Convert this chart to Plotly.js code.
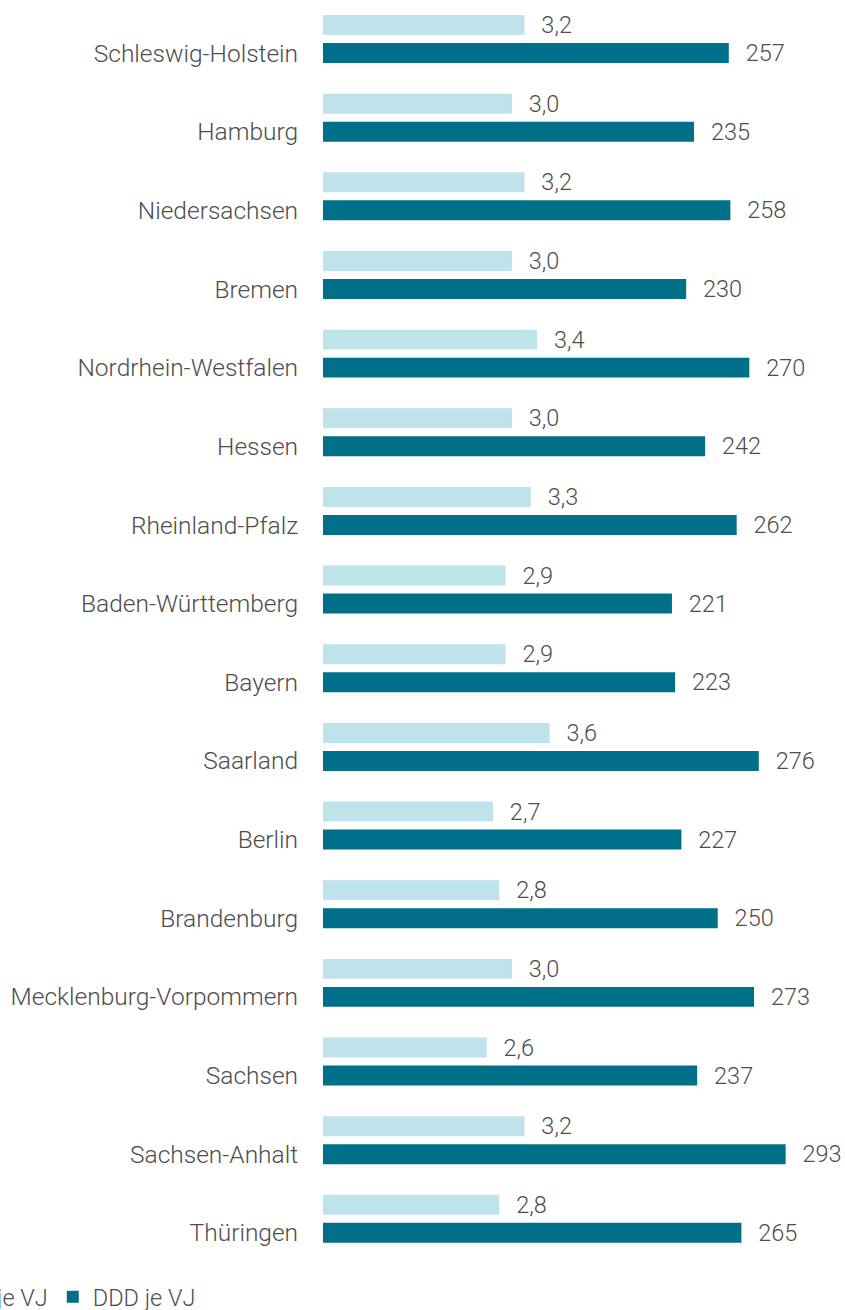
<!DOCTYPE html>
<html>
<head>
<meta charset="utf-8">
<script src="https://cdn.plot.ly/plotly-3.0.1.min.js"></script>
<style>html,body{margin:0;padding:0;background:#fff;}#chart{width:845px;height:1310px;}</style>
</head>
<body>
<div id="chart"></div>
<script>
const categories = ["Schleswig-Holstein","Hamburg","Niedersachsen","Bremen","Nordrhein-Westfalen","Hessen","Rheinland-Pfalz","Baden-Württemberg","Bayern","Saarland","Berlin","Brandenburg","Mecklenburg-Vorpommern","Sachsen","Sachsen-Anhalt","Thüringen"];
const voJeVJ = [3.2,3.0,3.2,3.0,3.4,3.0,3.3,2.9,2.9,3.6,2.7,2.8,3.0,2.6,3.2,2.8];
const dddJeVJ = [257,235,258,230,270,242,262,221,223,276,227,250,273,237,293,265];
const seriesNames = ["VO je VJ","DDD je VJ"];

const NB = "\u00a0\u00a0\u200a";
const font = {family: "Roboto", size: 23.5, color: "#4d4d4d", weight: 300};
const tickFont = {family: "Roboto", size: 24.5, color: "#4d4d4d", weight: 300};

const traces = [
  {
    type: "bar", orientation: "h", name: seriesNames[0],
    y: categories, x: voJeVJ, xaxis: "x2", yaxis: "y",
    width: 0.254, offset: -0.483,
    marker: {color: "#bfe3ea"},
    texttemplate: NB + "%{x:.1f}", textposition: "outside", cliponaxis: false,
    constraintext: "none",
    textfont: font, hoverinfo: "none"
  },
  {
    type: "bar", orientation: "h", name: seriesNames[1],
    y: categories, x: dddJeVJ, xaxis: "x", yaxis: "y",
    width: 0.254, offset: -0.127,
    marker: {color: "#006f89"},
    texttemplate: NB + "%{x:.0f}", textposition: "outside", cliponaxis: false,
    constraintext: "none",
    textfont: font, hoverinfo: "none"
  }
];

const layout = {
  width: 845, height: 1310,
  margin: {l: 323, r: 0, t: 0, b: 52, autoexpand: false},
  paper_bgcolor: "#fff", plot_bgcolor: "#fff",
  separators: ",.",
  font: font,
  showlegend: true,
  barmode: "overlay",
  xaxis: {range: [0, 330.6], visible: false, fixedrange: true},
  xaxis2: {range: [0, 8.29], overlaying: "x", visible: false, fixedrange: true},
  yaxis: {
    type: "category", range: [15.32, -0.674],
    showgrid: false, zeroline: false, showline: false,
    ticks: "outside", ticklen: 19, tickcolor: "rgba(0,0,0,0)",
    tickfont: tickFont
  },
  legend: {
    orientation: "h", x: -0.77, xanchor: "left", y: -0.031, yanchor: "middle",
    font: font, traceorder: "normal", borderwidth: 0, bgcolor: "rgba(0,0,0,0)"
  }
};

Plotly.newPlot("chart", traces, layout, {displayModeBar: false, staticPlot: true});
</script>
</body>
</html>
